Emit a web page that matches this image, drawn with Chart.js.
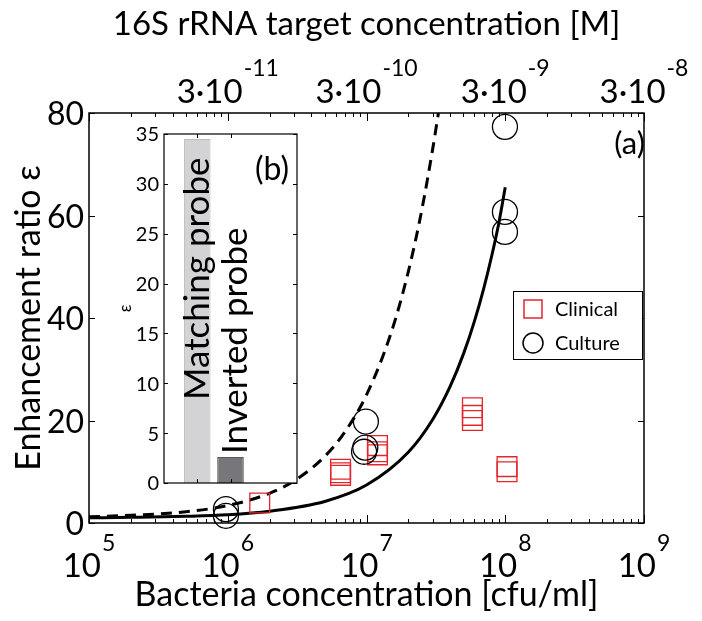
<!DOCTYPE html>
<html lang="en">
<head>
<meta charset="UTF-8">
<title>Enhancement ratio vs bacteria concentration</title>
<script src="https://cdn.jsdelivr.net/npm/chart.js"></script>
<style>
  html, body { margin: 0; padding: 0; background: #fff; }
  #wrap { position: relative; width: 702px; height: 621px; }
  #main { position: absolute; left: 0; top: 0; }
  #inset { position: absolute; left: 100px; top: 120px; }
</style>
</head>
<body>
<div id="wrap">
  <canvas id="main" width="702" height="621"></canvas>
  <canvas id="inset" width="210" height="380"></canvas>
</div>
<script>
// ---- data ----
const bacteriaDecades = [1e5, 1e6, 1e7, 1e8, 1e9];
const decadeExponents = ['5', '6', '7', '8', '9'];
const targetTicks = [3e-11, 3e-10, 3e-9, 3e-8];
const targetExponents = ['-11', '-10', '-9', '-8'];
const yTicks = [0, 20, 40, 60, 80];

const clinicalX = [1.7e6, 6.5e6, 6.5e6, 6.5e6, 1.2e7, 1.2e7, 1.2e7, 5.8e7, 5.8e7, 5.8e7, 1.03e8, 1.03e8];
const clinicalY = [3.9, 10.5, 9.8, 9.3, 15.1, 13.9, 13.3, 22.5, 21.0, 20.0, 11.0, 10.0];

const cultureX = [9.7e5, 9.7e5, 9.9e6, 9.8e6, 9.6e6, 9.95e7, 9.95e7, 9.95e7];
const cultureY = [2.7, 1.4, 19.8, 14.7, 13.9, 77.3, 60.7, 56.8];

// solid curve (fit) and dashed curve (model)
const fitX = [1e5, 2e5, 5e5, 1e6, 2e6, 5e6, 1e7, 2e7, 3e7, 4e7, 5e7, 6e7, 7e7, 8e7, 9e7, 1e8];
const fitY = [1.0, 1.1, 1.3, 1.6, 2.3, 4.2, 7.4, 13.8, 20.2, 26.6, 33.0, 39.4, 45.8, 52.2, 58.6, 65.5];
const modelX = [1e5, 2e5, 5e5, 1e6, 2e6, 3e6, 5e6, 7e6, 1e7, 1.5e7, 2e7, 2.5e7, 3e7, 3.3e7];
const modelY = [1.2, 1.5, 2.2, 3.4, 5.8, 8.2, 13.0, 17.8, 25.0, 37.0, 49.0, 61.0, 73.0, 80.0];

// inset (b)
const probeLabels = ['Matching probe', 'Inverted probe'];
const probeX = [1, 2];
const probeEps = [34.5, 2.6];
const insetTicks = [0, 5, 10, 15, 20, 25, 30, 35];

const FONT = 'Lato, "Open Sans", sans-serif';
const pts = (xs, ys) => xs.map((x, i) => ({x: x, y: ys[i]}));

// all 1..9 x 10^n marks for the log axis
const logMarks = [];
bacteriaDecades.forEach((d, i) => {
  for (let m = 1; m <= 9; m++) {
    if (i === bacteriaDecades.length - 1 && m > 1) break;
    logMarks.push(d * m);
  }
});

function supLabel(ctx, cx, baseY, base, exp, big, small, rise) {
  ctx.font = big + 'px ' + FONT;
  const w1 = ctx.measureText(base).width;
  ctx.font = small + 'px ' + FONT;
  const w2 = ctx.measureText(exp).width;
  const x0 = cx - (w1 + w2 + 1) / 2;
  ctx.textAlign = 'left';
  ctx.textBaseline = 'alphabetic';
  ctx.font = big + 'px ' + FONT;
  ctx.fillText(base, x0, baseY);
  ctx.font = small + 'px ' + FONT;
  ctx.fillText(exp, x0 + w1 + 1, baseY - rise);
}

const mainDecor = {
  id: 'mainDecor',
  afterDraw(chart) {
    const {ctx, chartArea: ca, scales} = chart;
    const x = scales.x, x2 = scales.x2, y = scales.y;
    ctx.save();
    ctx.strokeStyle = '#000';
    ctx.fillStyle = '#000';
    ctx.lineWidth = 1.5;
    ctx.strokeRect(ca.left, ca.top, ca.right - ca.left, ca.bottom - ca.top);

    // log tick marks, bottom and top, pointing inward
    ctx.lineWidth = 1;
    logMarks.forEach(v => {
      const px = Math.round(x.getPixelForValue(v)) + 0.5;
      const major = bacteriaDecades.includes(v);
      const len = major ? 8 : 4;
      ctx.beginPath();
      ctx.moveTo(px, ca.bottom); ctx.lineTo(px, ca.bottom - len);
      ctx.moveTo(px, ca.top); ctx.lineTo(px, ca.top + len);
      ctx.stroke();
    });
    yTicks.forEach(v => {
      const py = Math.round(y.getPixelForValue(v)) + 0.5;
      ctx.beginPath();
      ctx.moveTo(ca.left, py); ctx.lineTo(ca.left + 6, py);
      ctx.moveTo(ca.right, py); ctx.lineTo(ca.right - 6, py);
      ctx.stroke();
    });

    // bottom labels 10^n
    bacteriaDecades.forEach((v, i) => {
      supLabel(ctx, x.getPixelForValue(v), ca.bottom + 54, '10', decadeExponents[i], 33, 23, 26);
    });
    // top labels 3·10^n
    targetTicks.forEach((v, i) => {
      supLabel(ctx, x2.getPixelForValue(v), ca.top - 10, '3\u00B710', targetExponents[i], 33, 23, 27);
    });
    // y labels
    ctx.font = '32px ' + FONT;
    ctx.textAlign = 'right';
    ctx.textBaseline = 'middle';
    yTicks.forEach(v => ctx.fillText(String(v), ca.left - 5, y.getPixelForValue(v) + 2));

    // panel label
    ctx.font = '31px ' + FONT;
    ctx.textAlign = 'right';
    ctx.fillText('(a)', ca.right + 1, ca.top + 31);

    // legend
    const lx = ca.right - 131, ly = ca.top + 178, lw = 129, lh = 68;
    ctx.fillStyle = '#fff';
    ctx.fillRect(lx, ly, lw, lh);
    ctx.lineWidth = 1;
    ctx.strokeStyle = '#000';
    ctx.strokeRect(lx + 0.5, ly + 0.5, lw, lh);
    const items = chart.data.datasets.slice(0, 2);
    items.forEach((ds, i) => {
      const cy = ly + 18 + i * 34;
      ctx.strokeStyle = ds.borderColor;
      ctx.lineWidth = 1.5;
      if (ds.pointStyle === 'rect') {
        ctx.strokeRect(lx + 11, cy - 9, 18, 18);
      } else {
        ctx.beginPath();
        ctx.arc(lx + 20, cy, 10, 0, Math.PI * 2);
        ctx.stroke();
      }
      ctx.fillStyle = '#000';
      ctx.font = '20px ' + FONT;
      ctx.textAlign = 'left';
      ctx.textBaseline = 'middle';
      ctx.fillText(ds.label, lx + 42, cy + 1);
    });
    ctx.restore();
  }
};

new Chart(document.getElementById('main'), {
  type: 'scatter',
  data: {
    datasets: [
      {label: 'Clinical', data: pts(clinicalX, clinicalY), pointStyle: 'rect', pointRadius: 14,
       borderColor: '#e3262c', borderWidth: 1.3, backgroundColor: 'rgba(0,0,0,0)', clip: false, order: 1},
      {label: 'Culture', data: pts(cultureX, cultureY), pointStyle: 'circle', pointRadius: 12.5,
       borderColor: '#000', borderWidth: 1.3, backgroundColor: 'rgba(0,0,0,0)', clip: false, order: 0},
      {label: 'Fit', data: pts(fitX, fitY), showLine: true, pointRadius: 0, borderColor: '#000',
       borderWidth: 3, cubicInterpolationMode: 'monotone', order: 2},
      {label: 'Model', data: pts(modelX, modelY), showLine: true, pointRadius: 0, borderColor: '#000',
       borderWidth: 3, borderDash: [11, 7], cubicInterpolationMode: 'monotone', order: 3}
    ]
  },
  options: {
    responsive: false,
    animation: false,
    layout: {padding: {right: 58}},
    plugins: {legend: {display: false}, tooltip: {enabled: false}},
    scales: {
      x: {
        type: 'logarithmic', position: 'bottom', min: 1e5, max: 1e9,
        grid: {display: false}, border: {display: false}, ticks: {display: false},
        afterFit: s => { s.height = 98; },
        title: {display: true, text: 'Bacteria concentration [cfu/ml]', color: '#000',
                font: {family: FONT, size: 34}, padding: {top: 0, bottom: 6}}
      },
      x2: {
        type: 'logarithmic', position: 'top', min: 3e-12, max: 3e-8,
        grid: {display: false}, border: {display: false}, ticks: {display: false},
        afterFit: s => { s.height = 113; },
        title: {display: true, text: '16S rRNA target concentration [M]', color: '#000',
                font: {family: FONT, size: 33}, padding: {top: 5, bottom: 0}}
      },
      y: {
        min: 0, max: 80,
        grid: {display: false}, border: {display: false}, ticks: {display: false, stepSize: 20},
        afterFit: s => { s.width = 89; },
        title: {display: true, text: 'Enhancement ratio \u03B5', color: '#000',
                font: {family: FONT, size: 34}, padding: {top: 9, bottom: 0}}
      }
    }
  },
  plugins: [mainDecor]
});

// ---- inset (b) ----
const insetDecor = {
  id: 'insetDecor',
  beforeDatasetsDraw(chart) {
    const {ctx, chartArea: ca} = chart;
    ctx.save();
    ctx.fillStyle = '#fff';
    ctx.fillRect(ca.left, ca.top, ca.right - ca.left, ca.bottom - ca.top);
    ctx.restore();
  },
  afterDraw(chart) {
    const {ctx, chartArea: ca, scales} = chart;
    const x = scales.x, y = scales.y;
    ctx.save();
    ctx.strokeStyle = '#000';
    ctx.fillStyle = '#000';
    ctx.lineWidth = 1.2;
    ctx.strokeRect(ca.left, ca.top, ca.right - ca.left, ca.bottom - ca.top);
    ctx.lineWidth = 1;
    insetTicks.forEach(v => {
      const py = Math.round(y.getPixelForValue(v)) + 0.5;
      ctx.beginPath();
      ctx.moveTo(ca.left, py); ctx.lineTo(ca.left + 4, py);
      ctx.moveTo(ca.right, py); ctx.lineTo(ca.right - 4, py);
      ctx.stroke();
    });
    probeX.forEach(v => {
      const px = Math.round(x.getPixelForValue(v)) + 0.5;
      ctx.beginPath();
      ctx.moveTo(px, ca.top); ctx.lineTo(px, ca.top + 4);
      ctx.moveTo(px, ca.bottom); ctx.lineTo(px, ca.bottom - 4);
      ctx.stroke();
    });
    ctx.font = '20px ' + FONT;
    ctx.textAlign = 'right';
    ctx.textBaseline = 'middle';
    insetTicks.forEach(v => ctx.fillText(String(v), ca.left - 5, y.getPixelForValue(v) + 1));

    // epsilon axis label
    ctx.save();
    ctx.translate(ca.left - 38, (ca.top + ca.bottom) / 2);
    ctx.rotate(-Math.PI / 2);
    ctx.textAlign = 'center';
    ctx.font = '17px ' + FONT;
    ctx.fillText('\u03B5', 0, 0);
    ctx.restore();

    // bar labels, rotated
    ctx.font = '35px ' + FONT;
    ctx.textBaseline = 'middle';
    ctx.textAlign = 'left';
    ctx.save();
    ctx.translate(x.getPixelForValue(probeX[0]), ca.bottom - 83);
    ctx.rotate(-Math.PI / 2);
    ctx.fillText(probeLabels[0], 0, 0);
    ctx.restore();
    ctx.save();
    ctx.translate(x.getPixelForValue(probeX[1]) + 5, y.getPixelForValue(probeEps[1]) - 3);
    ctx.rotate(-Math.PI / 2);
    ctx.fillText(probeLabels[1], 0, 0);
    ctx.restore();

    ctx.font = '32px ' + FONT;
    ctx.textAlign = 'right';
    ctx.fillText('(b)', ca.right - 8, ca.top + 36);
    ctx.restore();
  }
};

new Chart(document.getElementById('inset'), {
  type: 'bar',
  data: {
    datasets: [{
      data: pts(probeX, probeEps),
      backgroundColor: ['#d3d3d5', '#77777b'],
      borderColor: ['#bdbdc0', '#58585c'],
      borderWidth: 1,
      categoryPercentage: 1,
      barPercentage: 0.8
    }]
  },
  options: {
    responsive: false,
    animation: false,
    layout: {padding: {top: 14, right: 13}},
    plugins: {legend: {display: false}, tooltip: {enabled: false}},
    scales: {
      x: {
        type: 'linear', min: 0, max: 4, offset: false,
        grid: {display: false}, border: {display: false}, ticks: {display: false},
        afterFit: s => { s.height = 17; }
      },
      y: {
        min: 0, max: 35,
        grid: {display: false}, border: {display: false}, ticks: {display: false, stepSize: 5},
        afterFit: s => { s.width = 64; }
      }
    }
  },
  plugins: [insetDecor]
});
</script>
</body>
</html>
